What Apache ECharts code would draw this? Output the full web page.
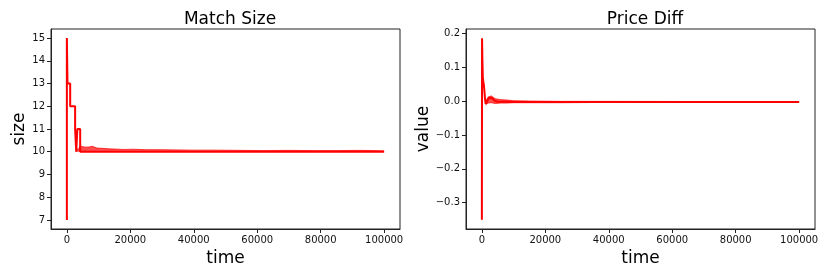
<!DOCTYPE html>
<html>
<head>
<meta charset="utf-8">
<script src="https://cdn.jsdelivr.net/npm/echarts@6/dist/echarts.min.js"></script>
<style>
  html, body { margin: 0; padding: 0; background: #fff; }
  #chart { width: 830px; height: 277px; }
</style>
</head>
<body>
<div id="chart"></div>
<script>
// tick labels
const timeTicks = [0, 20000, 40000, 60000, 80000, 100000];
const sizeTicks = [7, 8, 9, 10, 11, 12, 13, 14, 15];
const diffTicks = [-0.3, -0.2, -0.1, 0.0, 0.1, 0.2];

// Match Size: main stepped trace
const sizeTime = [0, 0, 200, 200, 1050, 1050, 2600, 2600, 2950, 2950, 3300, 3300, 4200, 4200, 100000];
const sizeValue = [7, 15, 15, 13, 13, 12, 12, 11, 11, 10, 10, 11, 11, 10, 10];
// Match Size: upper edge of the noisy band above 10
const sizeBandTime = [2950, 3600, 4200, 5000, 6000, 7000, 8000, 8600, 9500, 11000, 13000, 15000, 18000, 21000, 25000, 30000, 35000, 40000, 47000, 55000, 62000, 70000, 78000, 85000, 92000, 97000, 100000];
const sizeBandValue = [10.15, 10.1, 10.26, 10.22, 10.2, 10.21, 10.24, 10.2, 10.16, 10.15, 10.13, 10.12, 10.1, 10.11, 10.09, 10.09, 10.08, 10.07, 10.07, 10.06, 10.05, 10.06, 10.05, 10.05, 10.06, 10.05, 10.04];

// Price Diff: main trace
const diffTime = [0, 60, 150, 300, 450, 600, 800, 1000, 1200, 1500, 1900, 2300, 2700, 3100, 3600, 4200, 5000, 7000, 10000, 20000, 100000];
const diffValue = [-0.35, 0.185, 0.13, 0.07, 0.057, 0.05, 0.03, 0.005, -0.008, -0.004, 0.004, 0.01, 0.012, 0.009, 0.004, 0.0, -0.002, -0.002, -0.003, -0.003, -0.003];
// Price Diff: band edges around the settled value
const diffUpperTime = [1200, 2000, 3000, 4200, 6000, 8000, 10000, 15000, 25000, 40000, 100000];
const diffUpperValue = [0.0, 0.012, 0.015, 0.007, 0.004, 0.003, 0.001, 0.0, -0.001, -0.001, -0.002];
const diffLowerTime = [1200, 2000, 3000, 4200, 6000, 8000, 10000, 15000, 25000, 40000, 100000];
const diffLowerValue = [-0.011, -0.006, -0.005, -0.007, -0.006, -0.006, -0.005, -0.005, -0.005, -0.004, -0.004];

const zip = (xs, ys) => xs.map((x, i) => [x, ys[i]]);
const RED = '#ff0000';
const FONT = 'DejaVu Sans';

const minus = v => (v < 0 ? '\u2212' : '') + Math.abs(v).toFixed(1);

function xAxisFor(gridIndex) {
  return {
    type: 'value', gridIndex, min: -5000, max: 105000,
    name: 'time', nameLocation: 'middle', nameGap: 17,
    nameTextStyle: { fontFamily: FONT, fontSize: 17, color: '#000' },
    axisLine: { show: true, onZero: false, lineStyle: { color: '#222', width: 1 } },
    axisTick: { show: true, length: 4, customValues: timeTicks, lineStyle: { color: '#222' } },
    axisLabel: { customValues: timeTicks, margin: 6, formatter: v => String(v),
      fontFamily: FONT, fontSize: 10, color: '#111' },
    splitLine: { show: false }
  };
}

function yAxisFor(gridIndex, name, min, max, ticks, fmt, gap) {
  return {
    type: 'value', gridIndex, min, max,
    name, nameLocation: 'middle', nameGap: gap,
    nameTextStyle: { fontFamily: FONT, fontSize: 17, color: '#000' },
    axisLine: { show: true, onZero: false, lineStyle: { color: '#222', width: 1 } },
    axisTick: { show: true, length: 4, customValues: ticks, lineStyle: { color: '#222' } },
    axisLabel: { customValues: ticks, margin: 6, formatter: fmt, fontFamily: FONT, fontSize: 10, color: '#111' },
    splitLine: { show: false }
  };
}

const chart = echarts.init(document.getElementById('chart'), null, { renderer: 'canvas' });
chart.setOption({
  backgroundColor: '#fff',
  animation: false,
  title: [
    { text: 'Match Size', left: 225, top: 6, textAlign: 'center',
      textStyle: { fontFamily: FONT, fontSize: 17, fontWeight: 'normal', color: '#000' } },
    { text: 'Price Diff', left: 640, top: 6, textAlign: 'center',
      textStyle: { fontFamily: FONT, fontSize: 17, fontWeight: 'normal', color: '#000' } }
  ],
  grid: [
    { left: 51, top: 29, width: 349, height: 200, show: true, borderColor: '#222', borderWidth: 1, containLabel: false },
    { left: 466, top: 29, width: 349, height: 200, show: true, borderColor: '#222', borderWidth: 1, containLabel: false }
  ],
  xAxis: [xAxisFor(0), xAxisFor(1)],
  yAxis: [
    yAxisFor(0, 'size', 6.6, 15.4, sizeTicks, v => String(v), 23),
    yAxisFor(1, 'value', -0.3775, 0.2125, diffTicks, minus, 32)
  ],
  series: [
    { type: 'line', xAxisIndex: 0, yAxisIndex: 0, data: zip(sizeBandTime, sizeBandValue),
      symbol: 'none', lineStyle: { color: RED, width: 1, opacity: 0.7 },
      areaStyle: { color: RED, opacity: 0.7, origin: 10 } },
    { type: 'line', xAxisIndex: 0, yAxisIndex: 0, data: zip(sizeTime, sizeValue),
      symbol: 'none', lineStyle: { color: RED, width: 2 } },
    { type: 'line', xAxisIndex: 1, yAxisIndex: 1, data: zip(diffUpperTime, diffUpperValue),
      symbol: 'none', lineStyle: { color: RED, width: 1, opacity: 0.7 },
      areaStyle: { color: RED, opacity: 0.7, origin: -0.003 } },
    { type: 'line', xAxisIndex: 1, yAxisIndex: 1, data: zip(diffLowerTime, diffLowerValue),
      symbol: 'none', lineStyle: { color: RED, width: 1, opacity: 0.7 },
      areaStyle: { color: RED, opacity: 0.7, origin: -0.003 } },
    { type: 'line', xAxisIndex: 1, yAxisIndex: 1, data: zip(diffTime, diffValue),
      symbol: 'none', lineStyle: { color: RED, width: 2 } }
  ]
});
</script>
</body>
</html>
